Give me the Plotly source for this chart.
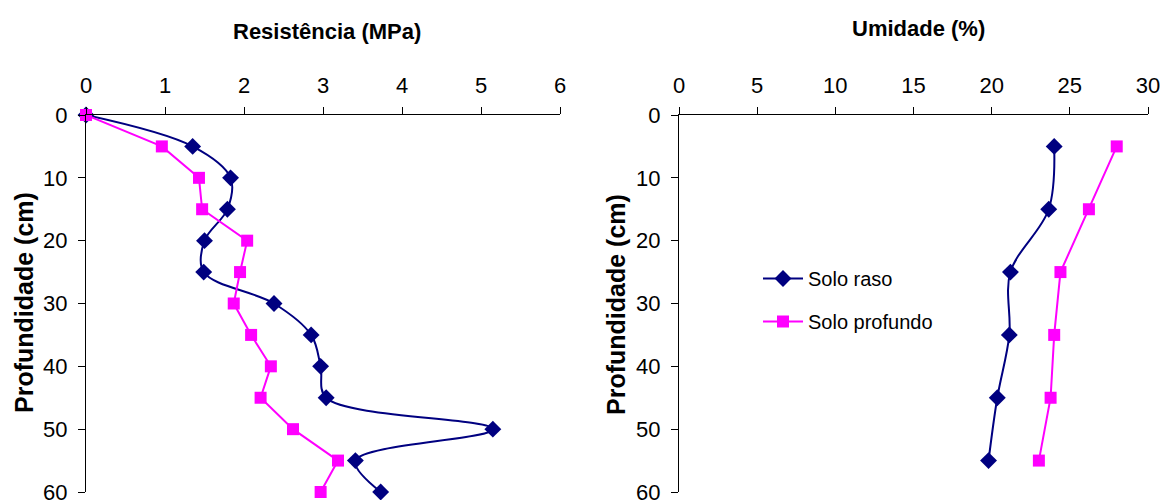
import plotly.graph_objects as go

# Data
depth_res = [0, 5, 10, 15, 20, 25, 30, 35, 40, 45, 50, 55, 60]
res_raso = [0, 1.35, 1.83, 1.79, 1.50, 1.49, 2.38, 2.85, 2.97, 3.04, 5.15, 3.41, 3.73]
res_profundo = [0, 0.96, 1.43, 1.47, 2.04, 1.95, 1.87, 2.09, 2.34, 2.21, 2.62, 3.19, 2.97]

depth_um = [5, 15, 25, 35, 45, 55]
um_raso = [24.0, 23.65, 21.2, 21.13, 20.36, 19.8]
um_profundo = [28.0, 26.22, 24.4, 24.0, 23.77, 23.02]

x_ticks_res = [0, 1, 2, 3, 4, 5, 6]
x_ticks_um = [0, 5, 10, 15, 20, 25, 30]
y_ticks = [0, 10, 20, 30, 40, 50, 60]

title_res = "Resistência (MPa)"
title_um = "Umidade (%)"
title_depth = "Profundidade (cm)"

NAVY = "#000080"
MAGENTA = "#FF00FF"
FONT = "Liberation Sans, Arial, sans-serif"

fig = go.Figure()

fig.add_trace(go.Scatter(x=res_raso, y=depth_res, mode="lines+markers", name="Solo raso",
                         line=dict(color=NAVY, width=2, shape="spline", smoothing=1),
                         marker=dict(symbol="diamond", size=13, color=NAVY),
                         xaxis="x", yaxis="y", showlegend=False, cliponaxis=False))
fig.add_trace(go.Scatter(x=res_profundo, y=depth_res, mode="lines+markers", name="Solo profundo",
                         line=dict(color=MAGENTA, width=2),
                         marker=dict(symbol="square", size=12, color=MAGENTA),
                         xaxis="x", yaxis="y", showlegend=False, cliponaxis=False))
fig.add_trace(go.Scatter(x=um_raso, y=depth_um, mode="lines+markers", name="Solo raso",
                         legendgroup="a",
                         line=dict(color=NAVY, width=2, shape="spline", smoothing=1),
                         marker=dict(symbol="diamond", size=13, color=NAVY),
                         xaxis="x2", yaxis="y2", cliponaxis=False))
fig.add_trace(go.Scatter(x=um_profundo, y=depth_um, mode="lines+markers", name="Solo profundo",
                         legendgroup="b",
                         line=dict(color=MAGENTA, width=2),
                         marker=dict(symbol="square", size=12, color=MAGENTA),
                         xaxis="x2", yaxis="y2", cliponaxis=False))

W, H = 1161, 500
def px_x(p):
    return p / W
def px_y(p):
    return (H - p) / H

axis_common = dict(showgrid=False, zeroline=False, showline=True, linecolor="black",
                   linewidth=1, ticks="outside", ticklen=7, tickcolor="black",
                   automargin=False, ticklabeloverflow="allow",
                   tickfont=dict(family=FONT, size=22, color="black"))

fig.update_layout(
    width=W, height=H,
    margin=dict(l=0, r=0, t=0, b=0),
    paper_bgcolor="white", plot_bgcolor="white",
    font=dict(family=FONT, color="black"),
    xaxis=dict(**axis_common, domain=[px_x(86), px_x(560)], range=[0, 6], side="top",
               anchor="y", tickvals=x_ticks_res, ticklabelstandoff=5),
    yaxis=dict(**axis_common, domain=[px_y(492), px_y(115)], range=[60, 0], anchor="x",
               tickvals=y_ticks, ticklabelstandoff=6),
    xaxis2=dict(**axis_common, domain=[px_x(679), px_x(1148)], range=[0, 30], side="top",
                anchor="y2", tickvals=x_ticks_um, ticklabelstandoff=5),
    yaxis2=dict(**axis_common, domain=[px_y(492), px_y(115)], range=[60, 0], anchor="x2",
                tickvals=y_ticks, ticklabelstandoff=6),
    legend=dict(x=px_x(758), y=px_y(259), xanchor="left", yanchor="top",
                font=dict(family=FONT, size=20, color="black"),
                bgcolor="rgba(0,0,0,0)", tracegroupgap=14, itemwidth=40),
)

ann_font = dict(family=FONT, color="black")
fig.add_annotation(text=f"<b>{title_res}</b>", xref="paper", yref="paper",
                   x=px_x(327), y=px_y(31), xanchor="center", yanchor="middle",
                   showarrow=False, font=dict(**ann_font, size=22))
fig.add_annotation(text=f"<b>{title_um}</b>", xref="paper", yref="paper",
                   x=px_x(918), y=px_y(28), xanchor="center", yanchor="middle",
                   showarrow=False, font=dict(**ann_font, size=22))
fig.add_annotation(text=f"<b>{title_depth}</b>", xref="paper", yref="paper",
                   x=px_x(24), y=px_y(303), xanchor="center", yanchor="middle",
                   textangle=-90, showarrow=False, font=dict(**ann_font, size=25))
fig.add_annotation(text=f"<b>{title_depth}</b>", xref="paper", yref="paper",
                   x=px_x(616), y=px_y(305), xanchor="center", yanchor="middle",
                   textangle=-90, showarrow=False, font=dict(**ann_font, size=25))

fig.write_html("out.html", config={"displayModeBar": False},
               post_script="document.body.style.margin='0';")
